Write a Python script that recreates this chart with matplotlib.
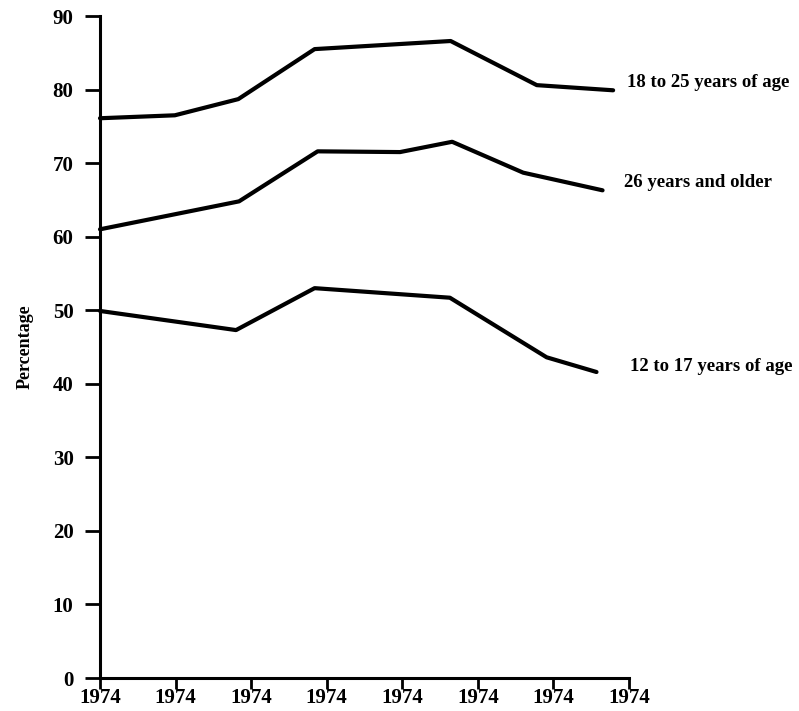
"""Percentage by age group, redrawn as a plain line chart."""

import matplotlib

matplotlib.use("Agg")
import matplotlib.pyplot as plt

# tick positions on the x axis (all labelled 1974 in the source)
tick_positions = [0, 1, 2, 3, 4, 5, 6, 7]
tick_labels = ["1974"] * 8
y_ticks = [0, 10, 20, 30, 40, 50, 60, 70, 80, 90]

age_18_25_x = [0.0, 0.99, 1.83, 2.84, 4.64, 5.78, 6.79]
age_18_25_y = [76.1, 76.5, 78.7, 85.5, 86.6, 80.6, 79.9]

age_26_up_x = [0.0, 1.84, 2.88, 3.97, 4.66, 5.60, 6.65]
age_26_up_y = [61.0, 64.8, 71.6, 71.5, 72.9, 68.7, 66.3]

age_12_17_x = [0.0, 1.80, 2.84, 4.63, 5.91, 6.57]
age_12_17_y = [49.9, 47.3, 53.0, 51.7, 43.6, 41.6]

series_labels = ["18 to 25 years of age", "26 years and older", "12 to 17 years of age"]

plt.rcParams["font.family"] = ["Liberation Serif", "DejaVu Serif"]

fig = plt.figure(figsize=(7.99, 7.11), dpi=100)
ax = fig.add_axes([100 / 799, 1 - 678 / 711, 529 / 799, 662 / 711])

for xs, ys in [
    (age_18_25_x, age_18_25_y),
    (age_26_up_x, age_26_up_y),
    (age_12_17_x, age_12_17_y),
]:
    ax.plot(xs, ys, color="black", linewidth=3.0, solid_capstyle="round", clip_on=False)

# end-of-line labels
label_spots = [(6.98, 80.9), (6.94, 67.3), (7.01, 42.3)]
for text, (lx, ly) in zip(series_labels, label_spots):
    ax.text(lx, ly, text, fontsize=13.5, fontweight="bold", va="center", ha="left",
            clip_on=False)

ax.set_xlim(0, 7)
ax.set_ylim(0, 90)
ax.set_xticks(tick_positions, tick_labels)
ax.set_yticks(y_ticks)
ax.set_ylabel("Percentage", fontsize=13, fontweight="bold", labelpad=14)

for side in ("top", "right"):
    ax.spines[side].set_visible(False)
for side in ("left", "bottom"):
    ax.spines[side].set_linewidth(2.2)

ax.tick_params(axis="x", direction="out", length=8, width=2.0, pad=-1, labelsize=15)
ax.tick_params(axis="y", direction="out", length=11, width=2.0, pad=8, labelsize=15)
for lab in ax.get_xticklabels() + ax.get_yticklabels():
    lab.set_fontweight("bold")

fig.savefig("out.png", dpi=100)
